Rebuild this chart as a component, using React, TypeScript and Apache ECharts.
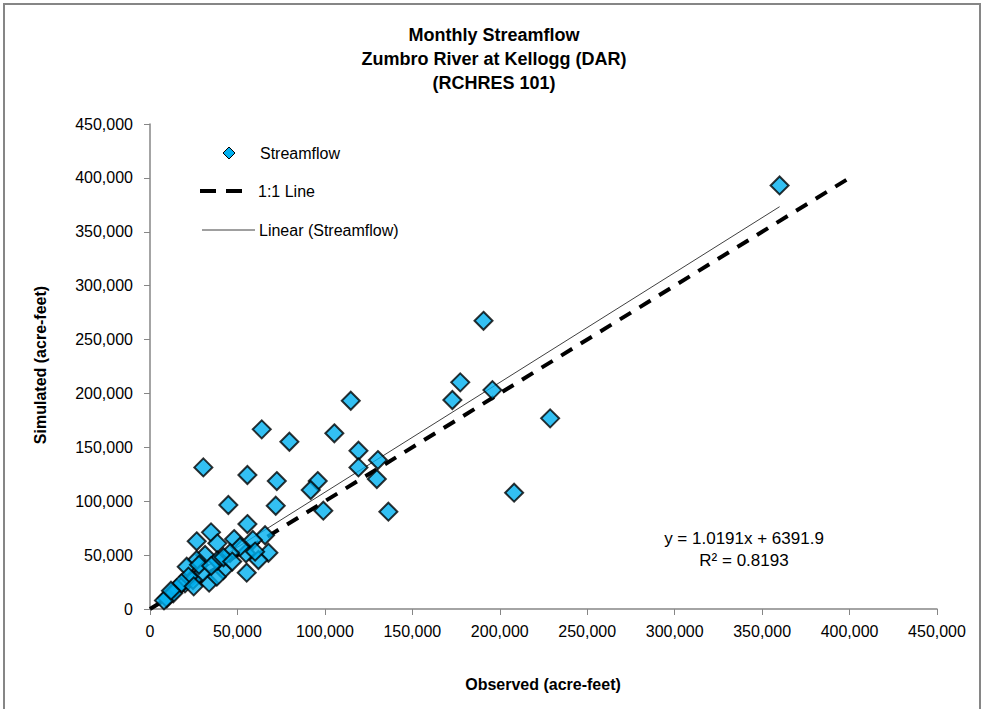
import React, { useEffect, useRef } from "react";
import * as echarts from "echarts";

// Observed (x) and simulated (y) monthly streamflow, acre-feet
const observed = [
  360000, 190700, 177400, 172900, 195800, 228800, 208200, 114800, 63900, 105400,
  79700, 119200, 130300, 119200, 30500, 55700, 72500, 129700, 95900, 91900,
  44800, 71900, 99100, 136300, 55700, 34900, 26700, 48100, 38500, 65800,
  58800, 67700, 54900, 62000, 51500, 31500, 26700, 21000, 41900, 55300,
  33800, 29600, 38200, 20000, 15300, 9600, 13300, 8000, 24600, 45800,
  60100, 38500, 28000, 22000, 18000, 12000, 42000, 35000, 25000, 47000,
];
const simulated = [
  393000, 267400, 210300, 193900, 203100, 176900, 107900, 193200, 166700, 163000,
  155200, 146800, 138200, 131400, 131400, 124300, 118700, 120600, 118700, 110400,
  96500, 95800, 91200, 90300, 78800, 71100, 62800, 64900, 60900, 68400,
  64000, 52200, 51700, 45500, 57800, 50100, 45500, 39200, 36200, 33700,
  24400, 33100, 30000, 23800, 19200, 9900, 14600, 8000, 26900, 51900,
  53200, 45000, 41000, 30000, 24000, 17000, 48000, 40000, 21000, 44000,
];
const oneToOne = [0, 400000];
const trendSlope = 1.0191;
const trendIntercept = 6391.9;
const rSquared = 0.8193;

const titleLines = ["Monthly Streamflow", "Zumbro River at Kellogg (DAR)", "(RCHRES 101)"];
const xAxisName = "Observed (acre-feet)";
const yAxisName = "Simulated (acre-feet)";
const legendNames = ["Streamflow", "1:1 Line", "Linear (Streamflow)"];

const FONT = "'Liberation Sans', Arial, sans-serif";

export default function App() {
  const ref = useRef<HTMLDivElement>(null);
  useEffect(() => {
    document.body.style.margin = "0";
    if (!ref.current) return;
    const chart = echarts.init(ref.current, null, { renderer: "svg" });
    const points = observed.map((x, i) => [x, simulated[i]]);
    const minX = Math.min(...observed);
    const maxX = Math.max(...observed);
    const trend = [
      [minX, trendSlope * minX + trendIntercept],
      [maxX, trendSlope * maxX + trendIntercept],
    ];
    const fmt = (v: number) => v.toLocaleString("en-US");
    chart.setOption({
      animation: false,
      backgroundColor: "#ffffff",
      textStyle: { fontFamily: FONT },
      grid: { left: 150, top: 124, width: 787, height: 485, containLabel: false },
      xAxis: {
        type: "value",
        min: 0,
        max: 450000,
        interval: 50000,
        axisLine: { show: true, lineStyle: { color: "#868686", width: 1.5 } },
        axisTick: { show: true, inside: false, length: 6, lineStyle: { color: "#868686" } },
        axisLabel: { formatter: fmt, color: "#000", fontSize: 16, margin: 14, fontFamily: FONT },
        splitLine: { show: false },
      },
      yAxis: {
        type: "value",
        min: 0,
        max: 450000,
        interval: 50000,
        axisLine: { show: true, lineStyle: { color: "#868686", width: 1.5 } },
        axisTick: { show: true, inside: false, length: 6, lineStyle: { color: "#868686" } },
        axisLabel: { formatter: fmt, color: "#000", fontSize: 16, margin: 17, fontFamily: FONT },
        splitLine: { show: false },
      },
      series: [
        {
          name: legendNames[1],
          type: "line",
          data: oneToOne.map((v) => [v, v]),
          symbol: "none",
          lineStyle: { color: "#000", width: 4, type: [13, 10] },
          z: 2,
        },
        {
          name: legendNames[2],
          type: "line",
          data: trend,
          symbol: "none",
          lineStyle: { color: "#404040", width: 1 },
          z: 3,
        },
        {
          name: legendNames[0],
          type: "scatter",
          data: points,
          symbol: "diamond",
          symbolSize: 18,
          itemStyle: { color: "#00B0F0", borderColor: "#000", borderWidth: 2 },
          z: 4,
        },
      ],
      graphic: [
        {
          type: "rect",
          shape: { x: 4, y: 4, width: 976, height: 760 },
          style: { fill: "none", stroke: "#868686", lineWidth: 2 },
          silent: true,
        },
        ...titleLines.map((t, i) => ({
          type: "text",
          x: 494,
          y: 35 + i * 24,
          style: {
            text: t,
            font: `bold 18px ${FONT}`,
            fill: "#000",
            align: "center",
            verticalAlign: "middle",
          },
        })),
        {
          type: "text",
          x: 40,
          y: 365,
          rotation: Math.PI / 2,
          style: {
            text: yAxisName,
            font: `bold 16px ${FONT}`,
            fill: "#000",
            align: "center",
            verticalAlign: "middle",
          },
        },
        {
          type: "text",
          x: 543,
          y: 684,
          style: {
            text: xAxisName,
            font: `bold 16px ${FONT}`,
            fill: "#000",
            align: "center",
            verticalAlign: "middle",
          },
        },
        // legend
        {
          type: "polygon",
          shape: { points: [[229, 147], [235, 153], [229, 159], [223, 153]] },
          style: { fill: "#00B0F0", stroke: "#000", lineWidth: 1 },
        },
        {
          type: "text",
          x: 260,
          y: 153,
          style: { text: legendNames[0], font: `16px ${FONT}`, fill: "#000", verticalAlign: "middle" },
        },
        {
          type: "line",
          shape: { x1: 200, y1: 191, x2: 242, y2: 191 },
          style: { stroke: "#000", lineWidth: 4, lineDash: [16, 10] },
        },
        {
          type: "text",
          x: 258,
          y: 191,
          style: { text: legendNames[1], font: `16px ${FONT}`, fill: "#000", verticalAlign: "middle" },
        },
        {
          type: "line",
          shape: { x1: 202, y1: 230, x2: 255, y2: 230 },
          style: { stroke: "#404040", lineWidth: 1 },
        },
        {
          type: "text",
          x: 259,
          y: 230,
          style: { text: legendNames[2], font: `16px ${FONT}`, fill: "#000", verticalAlign: "middle" },
        },
        // trendline equation
        {
          type: "text",
          x: 744,
          y: 538,
          style: {
            text: `y = ${trendSlope}x + ${trendIntercept}`,
            font: `17px ${FONT}`,
            fill: "#000",
            align: "center",
            verticalAlign: "middle",
          },
        },
        {
          type: "text",
          x: 744,
          y: 560,
          style: {
            text: `R² = ${rSquared}`,
            font: `17px ${FONT}`,
            fill: "#000",
            align: "center",
            verticalAlign: "middle",
          },
        },
      ],
    });
    return () => chart.dispose();
  }, []);
  return <div ref={ref} style={{ width: 982, height: 709 }} />;
}
